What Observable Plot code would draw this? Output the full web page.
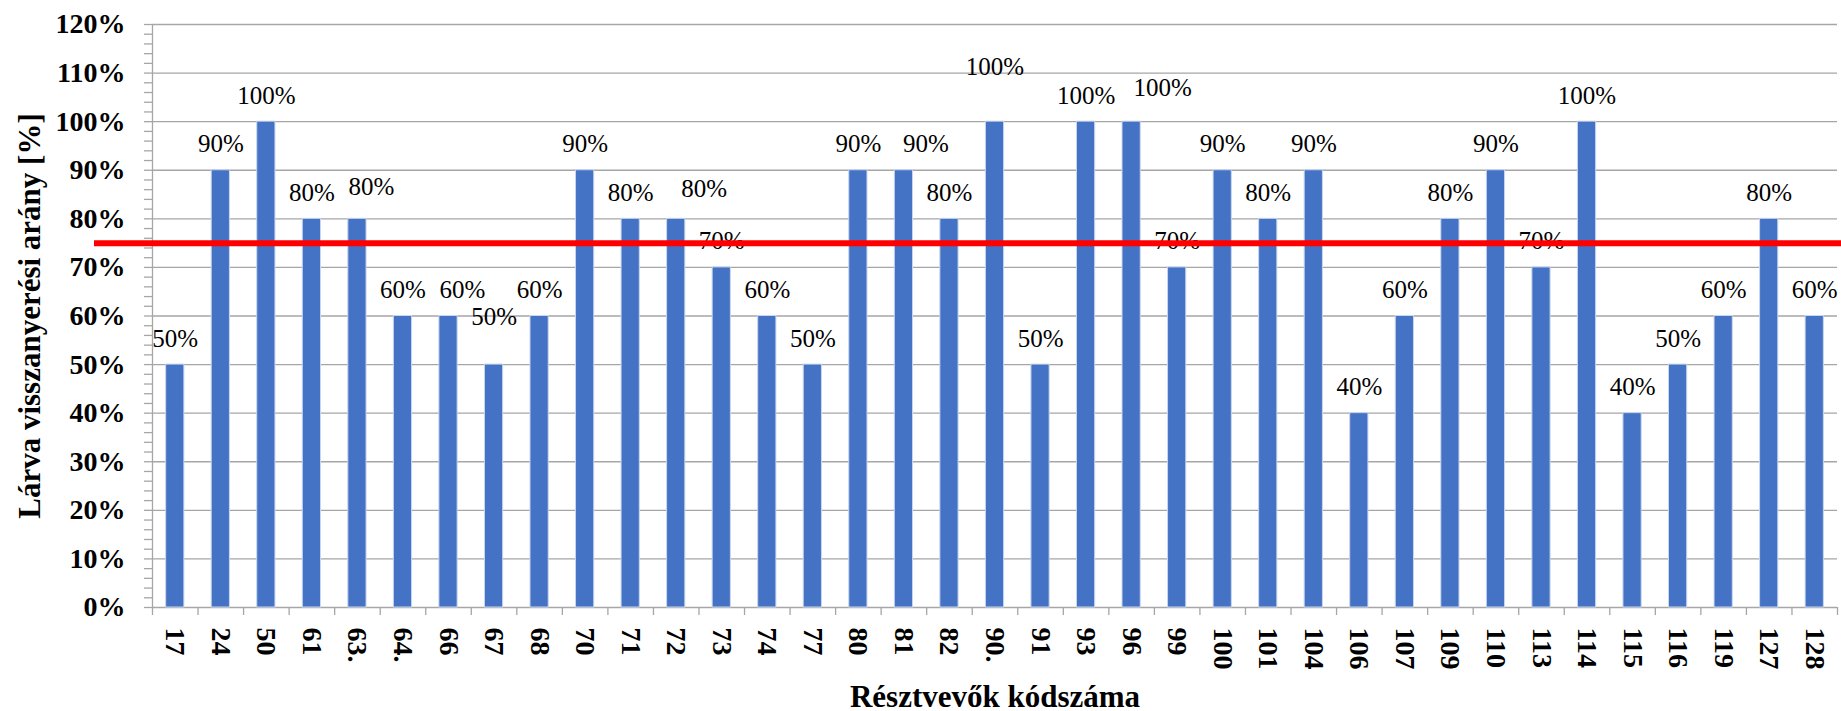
<!DOCTYPE html>
<html><head><meta charset="utf-8">
<script src="https://cdn.jsdelivr.net/npm/d3@7"></script>
<script src="https://cdn.jsdelivr.net/npm/@observablehq/plot@0.6"></script>
<style>html,body{margin:0;padding:0;background:#fff}#chart svg{display:block}</style>
</head><body><div id="chart"></div>
<script>
// ---- data ----
const codes = ["17","24","50","61","63.","64.","66","67","68","70","71","72","73","74","77","80","81","82","90.","91","93","96","99","100","101","104","106","107","109","110","113","114","115","116","119","127","128"];
const values = [50,90,100,80,80,60,60,50,60,90,80,80,70,60,50,90,90,80,100,50,100,100,70,90,80,90,40,60,80,90,70,100,40,50,60,80,60];
const yTicks = [0,10,20,30,40,50,60,70,80,90,100,110,120];
const threshold = 75;
const xTitle = "Résztvevők kódszáma";
const yTitle = "Lárva visszanyerési arány [%]";

// ---- layout / style ----
const W = 1841, H = 711, mL = 152, mR = 4, mT = 24, mB = 104;
const plotW = W - mL - mR, plotH = H - mT - mB;
const step = plotW / codes.length;
const barInset = step * 0.3;
const serif = "Liberation Serif, Times New Roman, serif";
const gridColor = "#a6a6a6";
// manual label nudges (pixels) as placed in the original
const nudge = {"63.": [14, -6], "66": [14, 0], "67": [0, -22], "72": [28, -4], "81": [22, 0], "90.": [0, -29], "96": [31, -8]};

const data = codes.map((c, i) => ({code: c, value: values[i]}));
const plain = data.filter(d => !(d.code in nudge));
const labelMarks = [
  Plot.text(plain, {x: "code", y: "value", text: d => d.value + "%", dy: -26, fontSize: 25, fontFamily: serif, fill: "black"}),
  ...data.filter(d => d.code in nudge).map(d =>
    Plot.text([d], {x: "code", y: "value", text: e => e.value + "%", dx: nudge[d.code][0], dy: -26 + nudge[d.code][1], fontSize: 25, fontFamily: serif, fill: "black"}))
];

const chart = Plot.plot({
  width: W, height: H,
  marginLeft: mL, marginRight: mR, marginTop: mT, marginBottom: mB,
  style: {fontFamily: serif, color: "black", background: "white", overflow: "visible"},
  x: {domain: codes, padding: 0, round: false, label: null, axis: null},
  y: {domain: [0, 120], label: null, axis: null},
  marks: [
    Plot.gridY(yTicks, {stroke: gridColor, strokeOpacity: 1, strokeWidth: 1.3}),
    // left axis line
    Plot.ruleX([codes[0]], {x: d => d, dx: -step / 2, stroke: gridColor, strokeWidth: 1.3}),
    // y minor ticks every 2%
    Plot.ruleY(d3.range(0, 121, 2), {y: d => d, insetLeft: -8, insetRight: plotW, stroke: gridColor, strokeWidth: 1.3}),
    // x category boundary ticks
    Plot.ruleX(codes, {x: d => d, dx: -step / 2, insetTop: plotH, insetBottom: -8, stroke: gridColor, strokeWidth: 1.3}),
    Plot.ruleX([codes[codes.length - 1]], {x: d => d, dx: step / 2, insetTop: plotH, insetBottom: -8, stroke: gridColor, strokeWidth: 1.3}),
    Plot.barY(data, {x: "code", y: "value", insetLeft: barInset, insetRight: barInset, fill: "#4472C4", stroke: "#c9d6ef", strokeWidth: 1}),
    ...labelMarks,
    Plot.ruleY([threshold], {stroke: "#ff0000", strokeWidth: 6, insetLeft: -58, insetRight: -mR}),
    Plot.axisY(yTicks, {tickSize: 0, tickPadding: 27, tickFormat: d => d + "%", fontSize: 28, fontWeight: "bold", fontFamily: serif, label: null}),
    Plot.axisX({tickSize: 0, tickPadding: 20, tickRotate: 90, fontSize: 28, fontWeight: "bold", fontFamily: serif, label: null}),
    Plot.text([xTitle], {frameAnchor: "bottom", text: d => d, dy: 90, lineAnchor: "middle", textAnchor: "middle", fontSize: 31, fontWeight: "bold", fontFamily: serif}),
    Plot.text([yTitle], {frameAnchor: "left", text: d => d, dx: -122, rotate: -90, lineAnchor: "middle", textAnchor: "middle", fontSize: 31, fontWeight: "bold", fontFamily: serif})
  ]
});
document.getElementById("chart").append(chart);
</script>
</body></html>
